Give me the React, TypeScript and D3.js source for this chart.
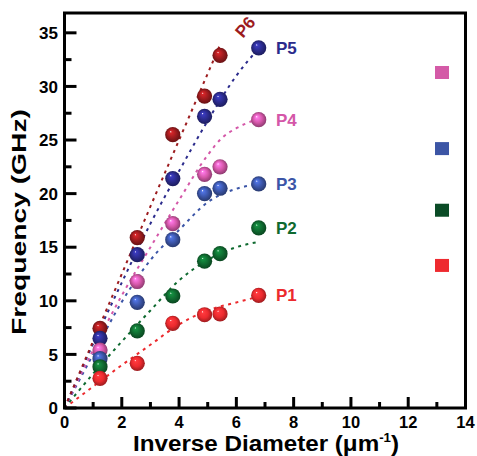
import React from 'react';
import * as d3 from 'd3';

// measured diameters (inverse, um^-1) shared by every series
const inverseDiam = [1.24, 2.54, 3.78, 4.89, 5.43, 6.78];

const seriesNames = ['P1', 'P2', 'P3', 'P4', 'P5', 'P6'];
const seriesColors = ['#ec2a2e', '#0f6a30', '#3b55a7', '#d457a8', '#2b2b8c', '#9c1b1e'];

const p1 = [2.77, 4.17, 7.9, 8.7, 8.77, 10.5];
const p2 = [3.85, 7.2, 10.45, 13.7, 14.4, 16.8];
const p3 = [4.6, 9.86, 15.7, 20.0, 20.5, 20.9];
const p4 = [5.4, 11.8, 17.2, 21.8, 22.5, 26.9];
const p5 = [6.5, 14.3, 21.4, 27.2, 28.8, 33.6];
const p6 = [7.43, 15.9, 25.5, 29.1, 32.9];

// dotted fit curves as [x, y]
const fit1 = [[0, 0], [1, 2.0], [2, 4.0], [3, 5.9], [4, 7.8], [5, 9.1], [6, 9.85], [6.8, 10.4]];
const fit2 = [[0, 0], [1, 3.2], [2, 6.2], [3, 9.1], [4, 11.9], [5, 13.8], [6, 15.0], [6.8, 15.5]];
const fit3 = [[0, 0], [1, 5.0], [2, 9.9], [3, 13.8], [4, 16.6], [5, 19.2], [6, 20.45], [6.8, 20.9]];
const fit4 = [[0, 0], [1, 5.4], [2, 10.5], [3, 15.0], [4, 19.4], [5, 23.6], [5.5, 25.2], [6, 26.1], [6.8, 27.0]];
const fit5 = [[0, 0], [1, 6.0], [2, 11.7], [3, 17.2], [4, 22.1], [5, 26.8], [6, 31.0], [6.8, 33.6]];
const fit6 = [[0, 0], [1, 6.25], [2, 12.5], [3, 18.8], [4, 25.0], [5, 31.2], [5.45, 34.0]];

// the unlabelled coloured squares at the right edge
const squareX = 13.18;
const squareLevels = [31.3, 24.2, 18.45, 13.3];
const squareColors = ['#d45aa7', '#3c55a5', '#0a4b26', '#ee2a2f'];

const xTicks = [0, 2, 4, 6, 8, 10, 12, 14];
const xMinor = [1, 3, 5, 7, 9, 11, 13];
const yTicks = [0, 5, 10, 15, 20, 25, 30, 35];
const yMinor = [2.5, 7.5, 12.5, 17.5, 22.5, 27.5, 32.5];

const W = 477;
const H = 456;
const font = '"Liberation Sans", Arial, sans-serif';

const App = () => {
  const x = d3.scaleLinear().domain([0, 14]).range([64.5, 465.5]);
  const y = d3.scaleLinear().domain([0, 36.85]).range([408, 13]);

  const values = [p1, p2, p3, p4, p5, p6];
  const fits = [fit1, fit2, fit3, fit4, fit5, fit6];

  const line = d3.line<number[]>()
    .x(d => x(d[0]))
    .y(d => y(d[1]))
    .curve(d3.curveMonotoneX);

  // label spots to the right of each series' last sphere
  const labelX = 276;

  return (
    <svg width={W} height={H} style={{ position: 'absolute', left: 0, top: 0, background: '#fff' }}>
      <defs>
        {seriesColors.map((c, i) => (
          <radialGradient key={i} id={'sph' + i} cx="0.5" cy="0.5" r="0.55" fx="0.36" fy="0.3">
            <stop offset="0%" stopColor="#ffffff" />
            <stop offset="12%" stopColor={d3.color(c)!.brighter(0.9).formatHex()} />
            <stop offset="55%" stopColor={c} />
            <stop offset="100%" stopColor={d3.color(c)!.darker(1.4).formatHex()} />
          </radialGradient>
        ))}
      </defs>

      {/* fit curves */}
      {fits.map((f, i) => (
        <path key={i} d={line(f) || ''} fill="none" stroke={seriesColors[i]}
          strokeWidth={2} strokeDasharray="3 4.5" />
      ))}

      {/* spheres, top series first so the lower ones sit on top */}
      {values.slice().reverse().map((vals, ri) => {
        const i = values.length - 1 - ri;
        return vals.map((v, j) => (
          <circle key={i + '-' + j} cx={x(inverseDiam[j])} cy={y(v)} r={7.6}
            fill={`url(#sph${i})`} />
        ));
      })}

      {/* series labels */}
      {seriesNames.slice(0, 5).map((n, i) => (
        <text key={n} x={labelX} y={y(values[i][values[i].length - 1]) + 6}
          fontFamily={font} fontWeight="bold" fontSize={17} fill={seriesColors[i]}>{n}</text>
      ))}
      <text transform="translate(245,27) rotate(-50)" textAnchor="middle" dy="0.35em"
        fontFamily={font} fontWeight="bold" fontSize={17} fill={seriesColors[5]}>{seriesNames[5]}</text>

      {/* right-hand squares */}
      {squareLevels.map((v, i) => (
        <rect key={i} x={x(squareX) - 7} y={y(v) - 6.5} width={14} height={13} fill={squareColors[i]} />
      ))}

      {/* frame */}
      <rect x={x(0)} y={y(36.85)} width={x(14) - x(0)} height={y(0) - y(36.85)}
        fill="none" stroke="#000" strokeWidth={3} />

      {/* ticks, pointing inward */}
      {xTicks.map(t => (
        <line key={'xt' + t} x1={x(t)} x2={x(t)} y1={y(0)} y2={y(0) - 11} stroke="#000" strokeWidth={3} />
      ))}
      {xMinor.map(t => (
        <line key={'xm' + t} x1={x(t)} x2={x(t)} y1={y(0)} y2={y(0) - 6} stroke="#000" strokeWidth={3} />
      ))}
      {yTicks.map(t => (
        <line key={'yt' + t} x1={x(0)} x2={x(0) + 12} y1={y(t)} y2={y(t)} stroke="#000" strokeWidth={3} />
      ))}
      {yMinor.map(t => (
        <line key={'ym' + t} x1={x(0)} x2={x(0) + 7} y1={y(t)} y2={y(t)} stroke="#000" strokeWidth={3} />
      ))}

      {/* tick labels */}
      {xTicks.map(t => (
        <text key={'xl' + t} x={x(t)} y={428} textAnchor="middle"
          fontFamily={font} fontWeight="bold" fontSize={16.5}>{t}</text>
      ))}
      {yTicks.map(t => (
        <text key={'yl' + t} x={58} y={y(t)} dy="0.36em" textAnchor="end"
          fontFamily={font} fontWeight="bold" fontSize={17}>{t}</text>
      ))}

      {/* axis titles */}
      <text x={266} y={451} textAnchor="middle" fontFamily={font} fontWeight="bold" fontSize={22}
        textLength={266} lengthAdjust="spacingAndGlyphs">
        Inverse Diameter (μm<tspan fontSize={12} dy={-9}>-1</tspan><tspan dy={9}>)</tspan>
      </text>
      <text transform="translate(26,222) rotate(-90)" textAnchor="middle"
        fontFamily={font} fontWeight="bold" fontSize={20}
        textLength={226} lengthAdjust="spacingAndGlyphs">Frequency (GHz)</text>
    </svg>
  );
};

export default App;
